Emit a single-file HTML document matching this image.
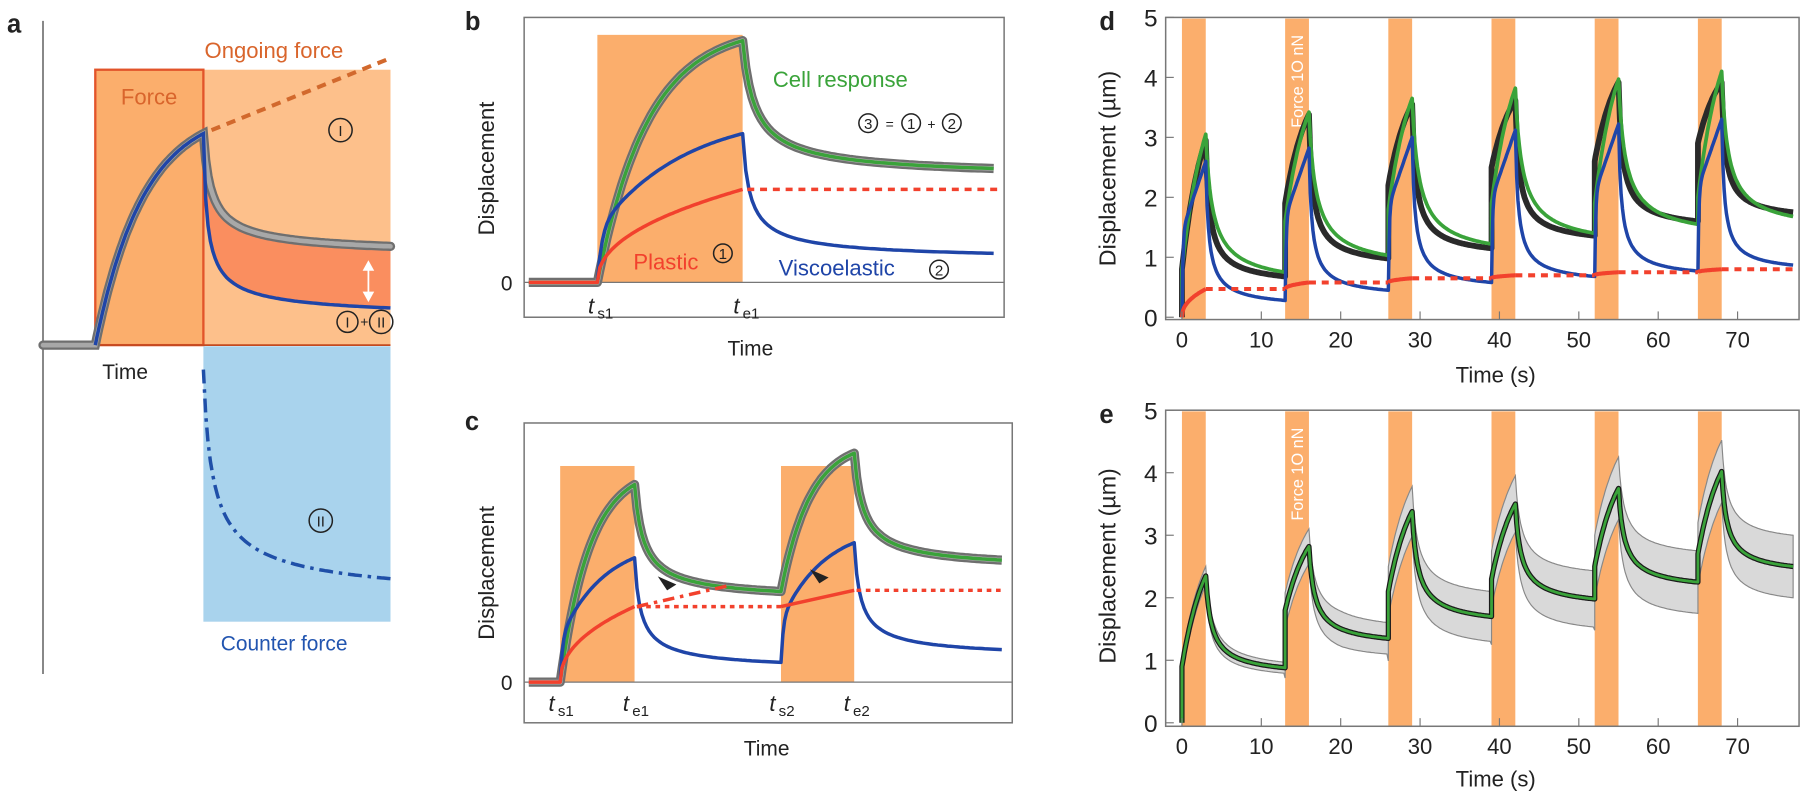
<!DOCTYPE html>
<html><head><meta charset="utf-8">
<style>
html,body{margin:0;padding:0;background:#fff;}
svg{display:block;font-family:"Liberation Sans",sans-serif;}
</style></head>
<body>
<svg id="fig" xmlns="http://www.w3.org/2000/svg" width="1813" height="796" viewBox="0 0 1560 685" preserveAspectRatio="none">
<g>
 <text x="6" y="28" font-size="22" font-weight="bold" fill="#222">a</text>
 <line x1="37" y1="18" x2="37" y2="580" stroke="#777" stroke-width="1.5"/>
 <rect x="175" y="60" width="161" height="237" fill="#fdc08b"/>
 <rect x="82" y="60" width="93" height="237" fill="#fbae6c" stroke="#e2542a" stroke-width="2"/>
 <rect x="175" y="298" width="161" height="237" fill="#a9d3ed"/>
 <line x1="82" y1="297" x2="336" y2="297" stroke="#c44a20" stroke-width="1.5"/>
 <text x="104" y="90" font-size="19" fill="#d9652c">Force</text>
 <text x="176" y="50" font-size="19" fill="#d9652c">Ongoing force</text>
 <line x1="182" y1="112" x2="336" y2="50" stroke="#d2692d" stroke-width="3.5" stroke-dasharray="8,6"/>
 <text x="88" y="326" font-size="18" fill="#222">Time</text>
 <text x="190" y="560" font-size="18" fill="#2255b0">Counter force</text>
</g>
<g id="dyn"></g>
</svg>
<script>
const NS='http://www.w3.org/2000/svg';
const svg=document.getElementById('dyn');
function mk(tag,attrs,parent){const e=document.createElementNS(NS,tag);for(const k in attrs)e.setAttribute(k,attrs[k]);(parent||svg).appendChild(e);return e;}
function riseF(u,k){return (1-Math.exp(-u/k))/(1-Math.exp(-1/k));}
function decF(u,c,a){const h=x=>Math.pow(1+x/c,-a);return (h(u)-h(1))/(1-h(1));}
function pts(fx,fy,n){const r=[];for(let i=0;i<=n;i++){const u=i/n;r.push([fx(u),fy(u)]);}return r;}
function pathD(arr){return 'M'+arr.map(p=>p[0].toFixed(1)+','+p[1].toFixed(1)).join('L');}
function txt(x,y,s,size,fill,extra){const t=mk('text',Object.assign({x:x,y:y,'font-size':size,fill:fill},extra||{}));t.textContent=s;return t;}
function circ(x,y,s,r){const g=mk('g',{});mk('circle',{cx:x,cy:y,r:r||8,fill:'none',stroke:'#222','stroke-width':1.3},g);const t=mk('text',{x:x,y:y+5,'font-size':13,'text-anchor':'middle',fill:'#222'},g);t.textContent=s;return g;}

/* ---------- Panel a (schematic) ---------- */
const aBase=[297], aPeak=[115], aGrayEnd=[212], aBlueEnd=[265], aCounter=[318,498];
const aRise=pts(u=>82+93*u,u=>aBase[0]-(aBase[0]-aPeak[0])*riseF(u,0.45),60);
const aGrayDec=pts(u=>175+161*u,u=>aGrayEnd[0]-(aGrayEnd[0]-aPeak[0])*decF(u,0.03,0.7),80);
const aBlueDec=pts(u=>175+161*u,u=>aBlueEnd[0]-(aBlueEnd[0]-aPeak[0])*decF(u,0.012,0.6),80);
let p;
p=mk('path',{d:pathD(aGrayDec.concat(aBlueDec.slice().reverse()))+'Z',fill:'#fa8e5f'});


p=mk('path',{d:pathD([[37,297],[82,297]].concat(aRise,aGrayDec)),fill:'none',stroke:'#6f6f6f','stroke-width':8,'stroke-linecap':'round'});


p=mk('path',{d:pathD([[37,297],[82,297]].concat(aRise,aGrayDec)),fill:'none',stroke:'#a8a8a8','stroke-width':4,'stroke-linecap':'round'});


p=mk('path',{d:pathD(aRise.concat(aBlueDec)),fill:'none',stroke:'#1f45a8','stroke-width':3});


p=mk('path',{d:pathD(pts(u=>175+161*u,u=>aCounter[0]+(aCounter[1]-aCounter[0])*(1-decF(u,0.03,0.6)),80)),fill:'none',stroke:'#1f4fa8','stroke-width':3,'stroke-dasharray':'12,5,3,5'});


p=mk('g',{});
mk('line',{x1:317,y1:228,x2:317,y2:256,stroke:'#fff','stroke-width':1.5},p);
mk('path',{d:'M312,233L317,224L322,233Z M312,251L317,260L322,251Z',fill:'#fff'},p);


p=circ(293,112,'I',10);


p=circ(299,277,'I',9);


p=txt(310,281,'+',12,'#222');


p=circ(328,277,'II',10);


p=circ(276,448,'II',10);



/* ---------- Panels b and c (schematic) ---------- */
function box(x,y,w,h,name){const r=mk('rect',{x:x,y:y,width:w,height:h,fill:'none',stroke:'#777','stroke-width':1.3});}
function line(arr,color,w,dash,name){const q=mk('path',{d:pathD(arr),fill:'none',stroke:color,'stroke-width':w,'stroke-dasharray':dash||'none','stroke-linejoin':'round'});return q;}
function grayTrace(arr,name){line(arr,'#6f6f6f',8,null,name);line(arr,'#adadad',4,null,name+'-highlight');}
function blueRise(u){return 0.35*(1-Math.exp(-u/0.03))+0.65*riseF(u,0.6);}

// b
p=txt(400,26,'b',22,'#222',{'font-weight':'bold'});


p=mk('rect',{x:514,y:30,width:125,height:213,fill:'#fbae6c'});


box(451,15,413,258,'panel-b-frame');
p=mk('line',{x1:451,y1:243,x2:864,y2:243,stroke:'#777','stroke-width':1});


const bZero=243, bPeak=[35,115,163], bEnd=[145,218,163];
const bGray=[[455,bZero],[514,bZero]].concat(pts(u=>514+125*u,u=>bZero-(bZero-bPeak[0])*riseF(u,0.35),60),pts(u=>639+216*u,u=>bEnd[0]-(bEnd[0]-bPeak[0])*decF(u,0.04,0.8),80));
grayTrace(bGray,'panel-b-data-trace');
line(bGray,'#3aa33a',3,null,'panel-b-cell-response');
line(pts(u=>514+125*u,u=>bZero-(bZero-bPeak[1])*blueRise(u),60).concat(pts(u=>639+216*u,u=>bEnd[1]-(bEnd[1]-bPeak[1])*decF(u,0.02,0.7),80)),'#1f45a8',3,null,'panel-b-viscoelastic');
line([[455,bZero],[514,bZero]].concat(pts(u=>514+125*u,u=>bZero-(bZero-bPeak[2])*Math.pow(u,0.45),60)),'#f2412d',3,null,'panel-b-plastic');
line([[643,bEnd[2]],[862,bEnd[2]]],'#f2412d',3,'6,5','panel-b-plastic-dotted');
p=txt(441,250,'0',18,'#222',{'text-anchor':'end'});


p=txt(425,145,'Displacement',19,'#222',{'text-anchor':'middle',transform:'rotate(-90 425 145)'});


p=txt(626,306,'Time',18,'#222');


p=txt(506,270,'t',19,'#222',{'font-style':'italic'});


p=txt(514,274,'s1',13,'#222');


p=txt(631,270,'t',19,'#222',{'font-style':'italic'});


p=txt(639,274,'e1',13,'#222');


p=txt(665,75,'Cell response',19,'#3aa33a');


p=txt(545,232,'Plastic',19,'#f2412d');


p=circ(622,218,'1',8);


p=txt(670,237,'Viscoelastic',19,'#1f45a8');


p=circ(808,232,'2',8);


p=circ(747,106,'3',8);


p=txt(762,111,'=',12,'#222');


p=circ(784,106,'1',8);


p=txt(798,111,'+',12,'#222');


p=circ(819,106,'2',8);



// c
p=txt(400,370,'c',22,'#222',{'font-weight':'bold'});


const cPulseX=[[482,546],[672,735]];
cPulseX.forEach((q,i)=>{const r=mk('rect',{x:q[0],y:401,width:q[1]-q[0],height:186,fill:'#fbae6c'});});
box(451,364,420,258,'panel-c-frame');
p=mk('line',{x1:451,y1:587,x2:871,y2:587,stroke:'#777','stroke-width':1});


const cZero=587, cGrayPk=[417,390], cGrayEnd=[509,482], cBluePk=[480,467], cBlueEnd=[570,559], cRed=[522,508];
const cGray=[[455,cZero],[482,cZero]]
 .concat(pts(u=>482+64*u,u=>cZero-(cZero-cGrayPk[0])*riseF(u,0.4),40))
 .concat(pts(u=>546+126*u,u=>cGrayEnd[0]-(cGrayEnd[0]-cGrayPk[0])*decF(u,0.05,0.8),60))
 .concat(pts(u=>672+63*u,u=>cGrayEnd[0]-(cGrayEnd[0]-cGrayPk[1])*riseF(u,0.4),40))
 .concat(pts(u=>735+127*u,u=>cGrayEnd[1]-(cGrayEnd[1]-cGrayPk[1])*decF(u,0.05,0.8),60));
grayTrace(cGray,'panel-c-data-trace');
line(cGray.slice(2),'#3aa33a',3,null,'panel-c-cell-response');
const cBlue=pts(u=>482+64*u,u=>cZero-(cZero-cBluePk[0])*blueRise(u),40)
 .concat(pts(u=>546+126*u,u=>cBlueEnd[0]-(cBlueEnd[0]-cBluePk[0])*decF(u,0.03,0.7),60))
 .concat(pts(u=>672+63*u,u=>cBlueEnd[0]-(cBlueEnd[0]-cBluePk[1])*blueRise(u),40))
 .concat(pts(u=>735+127*u,u=>cBlueEnd[1]-(cBlueEnd[1]-cBluePk[1])*decF(u,0.03,0.7),60));
line(cBlue,'#1f45a8',3,null,'panel-c-viscoelastic');
line([[455,cZero],[482,cZero]].concat(pts(u=>482+64*u,u=>cZero-(cZero-cRed[0])*Math.pow(u,0.45),40)),'#f2412d',3,null,'panel-c-plastic-1');
line([[548,cRed[0]],[672,cRed[0]]],'#f2412d',3,'4,4','panel-c-plastic-dotted-1');
line([[672,cRed[0]],[735,cRed[1]]],'#f2412d',3,null,'panel-c-plastic-2');
line([[737,cRed[1]],[862,cRed[1]]],'#f2412d',3,'4,4','panel-c-plastic-dotted-2');
line([[548,cRed[0]],[627,504]],'#f2412d',3,'10,5,3,5','panel-c-plastic-projection');
p=mk('path',{d:'M566,496L582,503L574,508Z M697,490L713,497L705,502Z',fill:'#222'});


p=txt(441,594,'0',18,'#222',{'text-anchor':'end'});


p=txt(425,493,'Displacement',19,'#222',{'text-anchor':'middle',transform:'rotate(-90 425 493)'});


p=txt(640,650,'Time',18,'#222');


[['s1',472],['e1',536],['s2',662],['e2',726]].forEach(q=>{
 const t=txt(q[1],612,'t',19,'#222',{'font-style':'italic'});
 
 
 const s=txt(q[1]+8,616,q[0],13,'#222');
 
 
});

/* ---------- Panels d and e (data) ---------- */
const pulseStarts=[0,13,26,39,52,65];
const pulseDur=3;
const tEnd=77;
const xTicks=[0,10,20,30,40,50,60,70];
const yTicks=[0,1,2,3,4,5];
const dGreenJump=[0.8,1.6,1.8,1.9,1.9,2.0];
const dGreenPeak=[3.05,3.42,3.65,3.82,3.97,4.1];
const dGreenEnd=[0.75,1.03,1.22,1.4,1.55,1.68];
const dBlackJump=[0.8,1.9,2.2,2.5,2.6,2.9];
const dBlackPeak=[2.95,3.38,3.55,3.62,3.92,3.92];
const dBlackEnd=[0.68,0.98,1.15,1.36,1.6,1.75];
const dBluePeak=[2.6,2.82,3.0,3.12,3.22,3.3];
const dBlueEnd=[0.28,0.45,0.58,0.68,0.77,0.87];
const dRedLevel=[0.47,0.58,0.65,0.7,0.75,0.8];
const eJump=[0.9,1.8,2.1,2.3,2.5,2.7];
const ePeak=[2.35,2.82,3.38,3.5,3.75,4.02];
const eEnd=[0.88,1.35,1.7,1.98,2.25,2.5];
const eSd=[0.15,0.28,0.4,0.45,0.5,0.5];

function xd(t){return 1017+t*6.83;}
function yd(v){return 273-v*51.6;}
function ye(v){return 622-v*53.8;}

function series(jump,peak,end,startVal,k,c,a){
 const out=[];let prev=startVal;
 pulseStarts.forEach((ts,i)=>{
  out.push([ts,prev]);
  for(let j=0;j<=30;j++){const u=j/30;out.push([ts+pulseDur*u,jump[i]+(peak[i]-jump[i])*riseF(u,k)]);}
  const te=ts+pulseDur, tn=(i<pulseStarts.length-1)?pulseStarts[i+1]:tEnd;
  for(let j=1;j<=60;j++){const u=j/60;out.push([te+(tn-te)*u,end[i]+(peak[i]-end[i])*decF(u,c,a)]);}
  prev=end[i];
 });
 return out;
}
function toPix(arr,fy){return arr.map(q=>[xd(q[0]),fy(q[1])]);}

function axesFrame(top,bottom,fy,prefix){
 const r=mk('rect',{x:1003,y:top,width:545,height:bottom-top,fill:'none',stroke:'#777','stroke-width':1.3});
 
 
 yTicks.forEach(v=>{
  const l=mk('line',{x1:1003,x2:1010,y1:fy(v),y2:fy(v),stroke:'#777','stroke-width':1});
  
  
  const t=txt(996,fy(v)+8,String(v),21,'#222',{'text-anchor':'end'});
  
  
 });
 xTicks.forEach(v=>{
  const l=mk('line',{x1:xd(v),x2:xd(v),y1:bottom,y2:bottom-7,stroke:'#777','stroke-width':1});
  
  
  const t=txt(xd(v),bottom+24,String(v),19,'#222',{'text-anchor':'middle'});
  
  
 });
}
function pulses(top,bottom,fy,prefix){
 pulseStarts.forEach((ts,i)=>{
  const r=mk('rect',{x:xd(ts),y:top+1,width:xd(ts+pulseDur)-xd(ts),height:bottom-top-1,fill:'#fbae6c'});
  
  
 });
}
function forceLabel(top,prefix){
 const t=txt(0,0,'Force 1O nN',14,'#fff',{transform:'translate('+(xd(pulseStarts[1]+1.5)+5)+','+(top+55)+') rotate(-90)','text-anchor':'middle'});
 
 
}

// panel d
p=txt(946,26,'d',22,'#222',{'font-weight':'bold'});


pulses(15,275,yd,'panel-d');
forceLabel(15,'panel-d');
const dBlack=series(dBlackJump,dBlackPeak,dBlackEnd,0,0.9,0.04,0.8);
line(toPix(dBlack,yd),'#2a2a2a',5,null,'panel-d-measured-data');
const dGreen=series(dGreenJump,dGreenPeak,dGreenEnd,0,1.0,0.07,0.8);
line(toPix(dGreen,yd),'#3aa33a',3.2,null,'panel-d-model-fit');
(function(){
 const out=[];let prev=0;
 pulseStarts.forEach((ts,i)=>{
  out.push([ts,prev]);
  for(let j=0;j<=30;j++){const u=j/30;out.push([ts+pulseDur*u,prev+(dBluePeak[i]-prev)*(0.55*(1-Math.exp(-u/0.04))+0.45*u)]);}
  const te=ts+pulseDur,tn=(i<pulseStarts.length-1)?pulseStarts[i+1]:tEnd;
  for(let j=1;j<=60;j++){const u=j/60;out.push([te+(tn-te)*u,dBlueEnd[i]+(dBluePeak[i]-dBlueEnd[i])*decF(u,0.03,0.8)]);}
  prev=dBlueEnd[i];
 });
 line(toPix(out,yd),'#1f45a8',3,null,'panel-d-viscoelastic');
 let prevR=0;
 pulseStarts.forEach((ts,i)=>{
  const seg=pts(u=>xd(ts+pulseDur*u),u=>yd(prevR+(dRedLevel[i]-prevR)*Math.pow(u,0.45)),30);
  line(seg,'#f2412d',3.5,null,'panel-d-plastic-rise');
  const tn=(i<pulseStarts.length-1)?pulseStarts[i+1]:tEnd;
  line([[xd(ts+pulseDur),yd(dRedLevel[i])],[xd(tn),yd(dRedLevel[i])]],'#f2412d',3.5,'6,5','panel-d-plastic-dotted');
  prevR=dRedLevel[i];
 });
})();
axesFrame(15,275,yd,'panel-d');
p=txt(960,145,'Displacement (µm)',20,'#222',{'text-anchor':'middle',transform:'rotate(-90 960 145)'});


p=txt(1287,329,'Time (s)',19,'#222',{'text-anchor':'middle'});



// panel e
p=txt(946,364,'e',22,'#222',{'font-weight':'bold'});


pulses(353,625,ye,'panel-e');
forceLabel(353,'panel-e');
const eMean=series(eJump,ePeak,eEnd,0,1.0,0.06,0.8);
function sdAt(t){let k=0;pulseStarts.forEach((s,j)=>{if(t>=s)k=j;});return eSd[k];}
const eUp=eMean.map(q=>[q[0],q[1]+sdAt(q[0])*Math.min(1,q[1]/1.5)]);
const eLo=eMean.map(q=>[q[0],q[1]-sdAt(q[0])*Math.min(1,q[1]/1.5)]);
p=mk('path',{d:pathD(toPix(eUp,ye).concat(toPix(eLo,ye).reverse()))+'Z',fill:'#d9d9d9',stroke:'#888','stroke-width':1});


line(toPix(eMean,ye),'#1a1a1a',4.5,null,'panel-e-mean-data');
line(toPix(eMean,ye),'#3aa33a',2.4,null,'panel-e-model-fit');
axesFrame(353,625,ye,'panel-e');
p=txt(960,487,'Displacement (µm)',20,'#222',{'text-anchor':'middle',transform:'rotate(-90 960 487)'});


p=txt(1287,677,'Time (s)',19,'#222',{'text-anchor':'middle'});


</script>
</body></html>
